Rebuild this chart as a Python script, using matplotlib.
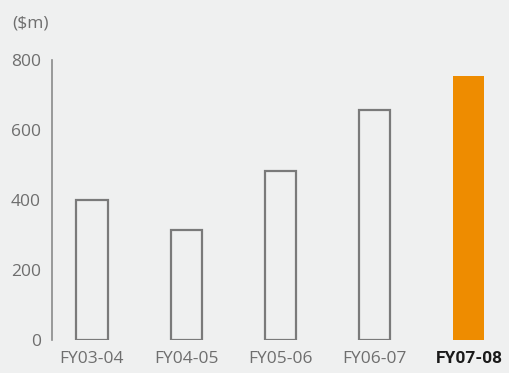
import matplotlib
matplotlib.use("Agg")
import matplotlib.pyplot as plt

categories = ["FY03-04", "FY04-05", "FY05-06", "FY06-07", "FY07-08"]
values = [401, 315, 484, 657, 753]
yticks = [0, 200, 400, 600, 800]

bg = "#eff0f0"
gray_text = "#6e6e6e"
edge = "#7a7a7a"
orange = "#ee8c00"

plt.rcParams['font.family'] = ['Open Sans', 'DejaVu Sans']
fs = 12.5

fig = plt.figure(figsize=(5.10, 3.73), dpi=100, facecolor=bg)
ax = fig.add_axes([52/510, 1-340/373, 1-52/510, (340-60)/373])
ax.set_facecolor(bg)

x = list(range(len(categories)))
for i, v in enumerate(values):
    if i == len(values) - 1:
        ax.bar(i, v, width=0.33, color=orange, edgecolor="none")
    else:
        ax.bar(i, v, width=0.33, facecolor="none", edgecolor=edge, linewidth=1.6)

ax.set_ylim(0, 800)
ax.set_xlim(-0.424, 4.436)
ax.set_yticks(yticks)
ax.set_yticklabels([str(t) for t in yticks], fontsize=fs, color=gray_text)
ax.set_xticks(x)
ax.set_xticklabels(categories, fontsize=fs, color=gray_text)
lbls = ax.get_xticklabels()
lbls[-1].set_color("#1a1a1a")
lbls[-1].set_family(["Roboto", "DejaVu Sans"])
lbls[-1].set_fontweight("bold")
lbls[-1].set_fontsize(12.5)
ax.tick_params(axis='both', length=0)
ax.tick_params(axis='y', pad=8)
ax.tick_params(axis='x', pad=8)

for s in ["top", "right", "bottom"]:
    ax.spines[s].set_visible(False)
ax.spines["left"].set_color("#8a8a8a")
ax.spines["left"].set_linewidth(1.2)

fig.text(12/510, 1-23/373, "($m)", fontsize=fs, color=gray_text, va="center", ha="left")

fig.savefig("out.png", dpi=100, facecolor=bg)
